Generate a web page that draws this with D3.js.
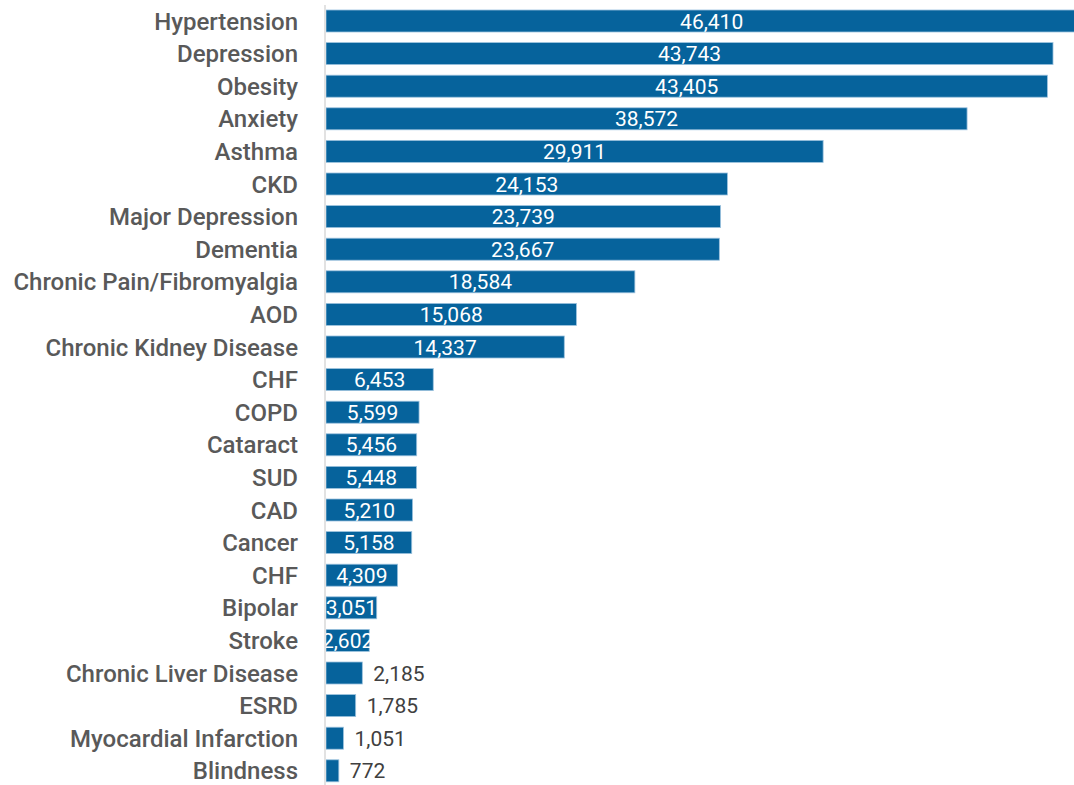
<!DOCTYPE html>
<html>
<head>
<meta charset="utf-8">
<script src="https://cdn.jsdelivr.net/npm/d3@7"></script>
<style>
  html, body { margin: 0; padding: 0; background: #fff; }
  svg { display: block; }
</style>
</head>
<body>
<svg id="chart" width="1074" height="785"></svg>
<script>
// Condition counts, largest first
const conditions = [
  "Hypertension", "Depression", "Obesity", "Anxiety", "Asthma", "CKD",
  "Major Depression", "Dementia", "Chronic Pain/Fibromyalgia", "AOD",
  "Chronic Kidney Disease", "CHF", "COPD", "Cataract", "SUD", "CAD",
  "Cancer", "CHF ", "Bipolar", "Stroke", "Chronic Liver Disease", "ESRD",
  "Myocardial Infarction", "Blindness"
];
const counts = [
  46410, 43743, 43405, 38572, 29911, 24153,
  23739, 23667, 18584, 15068,
  14337, 6453, 5599, 5456, 5448, 5210,
  5158, 4309, 3051, 2602, 2185, 1785,
  1051, 772
];

const W = 1074, H = 785;
const plotLeft = 326;
const insideMin = 2500;   // counts below this get their label outside the bar

const svg = d3.select("#chart");

const x = d3.scaleLinear().domain([0, 50000]).range([plotLeft, plotLeft + 831]);
const y = d3.scaleBand().domain(d3.range(conditions.length)).range([-0.6, 792.4]).padding(0.325);

const rows = conditions.map((c, i) => ({ name: c, value: counts[i], i }));

svg.append("defs").append("clipPath").attr("id", "plotClip")
  .append("rect").attr("x", plotLeft).attr("y", 0).attr("width", W - plotLeft).attr("height", H);

const plot = svg.append("g").attr("clip-path", "url(#plotClip)");

// bars
plot.selectAll("rect.bar").data(rows).join("rect")
  .attr("class", "bar")
  .attr("x", x(0))
  .attr("y", d => y(d.i))
  .attr("width", d => x(d.value) - x(0))
  .attr("height", y.bandwidth())
  .attr("fill", "#06639c")
  .attr("stroke", "#9cc2de")
  .attr("stroke-width", 0.8);

const fmt = d3.format(",");
const labelFont = "Roboto, 'Liberation Sans', sans-serif";

// value labels centred inside the bar
plot.selectAll("text.inside").data(rows.filter(d => d.value >= insideMin)).join("text")
  .attr("class", "inside")
  .attr("x", d => (x(0) + x(d.value)) / 2)
  .attr("y", d => y(d.i) + y.bandwidth() / 2)
  .attr("dy", "0.36em")
  .attr("text-anchor", "middle")
  .attr("fill", "#ffffff")
  .style("font-family", labelFont)
  .style("font-size", "21px")
  .text(d => fmt(d.value));

// value labels just past the end of short bars
svg.selectAll("text.outside").data(rows.filter(d => d.value < insideMin)).join("text")
  .attr("class", "outside")
  .attr("x", d => x(d.value) + 11)
  .attr("y", d => y(d.i) + y.bandwidth() / 2)
  .attr("dy", "0.36em")
  .attr("fill", "#404040")
  .style("font-family", labelFont)
  .style("font-size", "21px")
  .text(d => fmt(d.value));

// category axis line
svg.append("line")
  .attr("x1", plotLeft - 1).attr("x2", plotLeft - 1)
  .attr("y1", 5).attr("y2", H)
  .attr("stroke", "#d9d9d9").attr("stroke-width", 1.5);

// category labels
const yAxis = d3.axisLeft(y).tickSize(0).tickPadding(0).tickFormat(i => conditions[i].trim());
const gAxis = svg.append("g").attr("transform", `translate(298,0)`).call(yAxis);
gAxis.select(".domain").remove();
gAxis.selectAll("text")
  .attr("fill", "#595959")
  .attr("dy", "0.36em")
  .style("font-family", labelFont)
  .style("font-size", "24px")
  .style("font-weight", "500");
</script>
</body>
</html>
